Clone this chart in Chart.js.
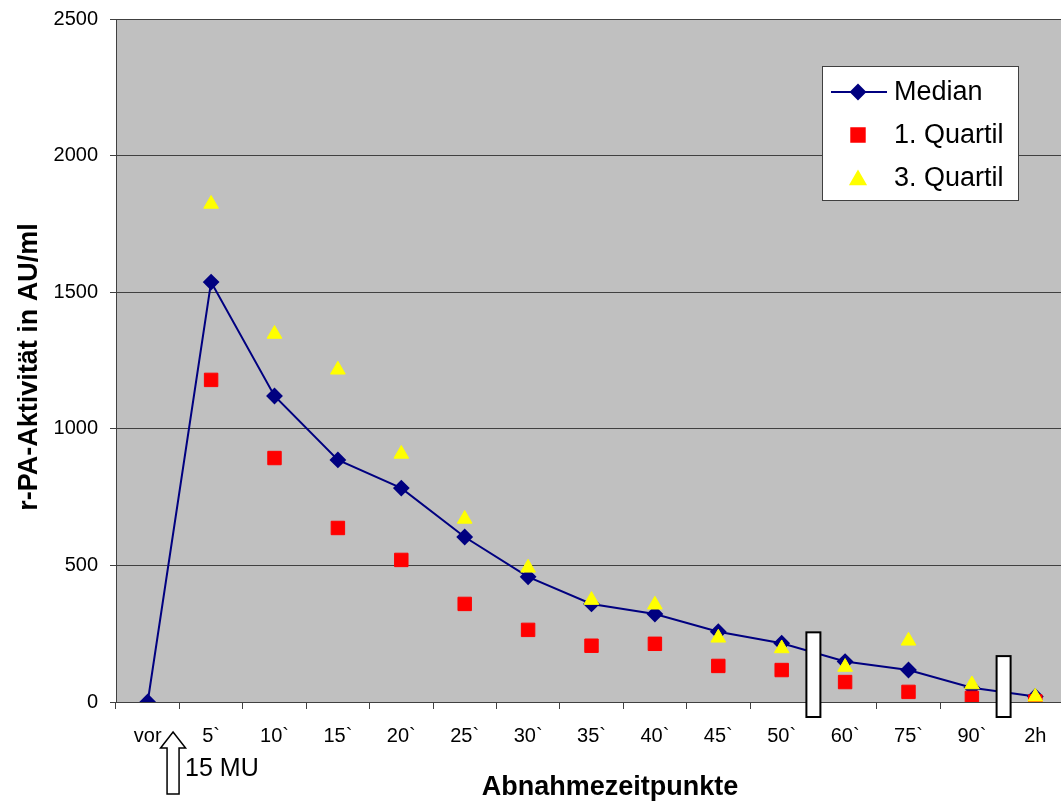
<!DOCTYPE html>
<html lang="de">
<head>
<meta charset="utf-8">
<title>r-PA-Aktivität</title>
<script src="https://cdn.jsdelivr.net/npm/chart.js@4/dist/chart.umd.min.js"></script>
<style>
  html, body { margin: 0; padding: 0; background: #fff; overflow: hidden; }
  #wrap { width: 1080px; height: 803px; }
</style>
</head>
<body>
<div id="wrap"><canvas id="grafico"></canvas></div>
<script>
const zeitpunkte = ['vor', '5`', '10`', '15`', '20`', '25`', '30`', '35`', '40`', '45`', '50`', '60`', '75`', '90`', '2h'];
const median = [0, 1537, 1120, 886, 783, 604, 458, 359, 322, 257, 215, 148, 117, 52, 20];
const quartil1 = [null, 1179, 893, 637, 520, 359, 264, 206, 213, 132, 117, 73, 37, 15, 2];
const quartil3 = [null, 1823, 1347, 1216, 908, 670, 491, 373, 356, 235, 196, 128, 224, 64, 19];
const yTicks = [0, 500, 1000, 1500, 2000, 2500];

// Achsenbruch nach diesen Kategorien (Index), Oberkante des Balkens in AU/ml
const bruchNach = [10, 13];
const bruchOben = [255, 168];

const FONT = '"Liberation Sans", Arial, sans-serif';
const ACHSE = '#404040';

const hintergrund = {
  id: 'hintergrund',
  beforeDraw(chart) {
    const { ctx, chartArea: a } = chart;
    ctx.save();
    ctx.fillStyle = '#c0c0c0';
    ctx.fillRect(a.left, a.top, a.right - a.left, a.bottom - a.top);
    ctx.restore();
  }
};

const extras = {
  id: 'extras',
  afterDatasetsDraw(chart) {
    const { ctx, scales: { x, y } } = chart;
    ctx.save();

    // Achsentitel
    ctx.fillStyle = '#000';
    ctx.font = 'bold 27px ' + FONT;
    ctx.textAlign = 'center';
    ctx.textBaseline = 'alphabetic';
    ctx.fillText('Abnahmezeitpunkte', 610, 795);
    ctx.save();
    ctx.translate(37, 367);
    ctx.rotate(-Math.PI / 2);
    ctx.fillText('r-PA-Aktivität in AU/ml', 0, 0);
    ctx.restore();

    // Achsenbruch-Balken
    ctx.fillStyle = '#fff';
    ctx.strokeStyle = '#000';
    ctx.lineWidth = 2;
    bruchNach.forEach((idx, i) => {
      const bx = x.getPixelForValue(idx + 0.5);
      const top = y.getPixelForValue(bruchOben[i]);
      const bottom = y.getPixelForValue(0) + 15;
      ctx.fillRect(bx - 7, top, 14, bottom - top);
      ctx.strokeRect(bx - 7, top, 14, bottom - top);
    });

    // Pfeil "15 MU"
    const ax = x.getPixelForValue(0.4);
    const tip = y.getPixelForValue(0) + 30;
    ctx.beginPath();
    ctx.moveTo(ax, tip);
    ctx.lineTo(ax + 12.5, tip + 16);
    ctx.lineTo(ax + 6, tip + 16);
    ctx.lineTo(ax + 6, tip + 62);
    ctx.lineTo(ax - 6, tip + 62);
    ctx.lineTo(ax - 6, tip + 16);
    ctx.lineTo(ax - 12.5, tip + 16);
    ctx.closePath();
    ctx.fill();
    ctx.lineWidth = 1.5;
    ctx.stroke();
    ctx.fillStyle = '#000';
    ctx.font = '25px ' + FONT;
    ctx.textAlign = 'left';
    ctx.fillText('15 MU', ax + 12, tip + 44);

    // Legende
    const lx = 822, ly = 66, lw = 196, lh = 134;
    ctx.fillStyle = '#fff';
    ctx.fillRect(lx, ly, lw, lh);
    ctx.strokeStyle = ACHSE;
    ctx.lineWidth = 1;
    ctx.strokeRect(lx + 0.5, ly + 0.5, lw, lh);
    ctx.font = '27px ' + FONT;
    ctx.textBaseline = 'middle';
    chart.data.datasets.forEach((ds, i) => {
      const cy = ly + 26 + i * 43;
      const mx = lx + 36;
      if (ds.showLine !== false) {
        ctx.strokeStyle = ds.borderColor;
        ctx.lineWidth = ds.borderWidth;
        ctx.beginPath();
        ctx.moveTo(lx + 9, cy);
        ctx.lineTo(lx + 65, cy);
        ctx.stroke();
      }
      ctx.fillStyle = ds.pointBackgroundColor;
      ctx.strokeStyle = ds.pointBorderColor;
      Chart.helpers.drawPoint(ctx, { pointStyle: ds.pointStyle, radius: ds.pointRadius, borderWidth: 1 }, mx, ds.pointStyle === 'triangle' ? cy + 2 : cy);
      ctx.fillStyle = '#000';
      ctx.fillText(ds.label, lx + 72, cy + 1);
    });
    ctx.restore();
  }
};

new Chart(document.getElementById('grafico'), {
  type: 'line',
  data: {
    labels: zeitpunkte,
    datasets: [
      {
        label: 'Median', data: median, order: 2,
        borderColor: '#000080', borderWidth: 2, tension: 0,
        pointStyle: 'rectRot', pointRadius: 7,
        pointBackgroundColor: '#000080', pointBorderColor: '#000080'
      },
      {
        label: '1. Quartil', data: quartil1, order: 1, showLine: false,
        pointStyle: 'rect', pointRadius: 9.5,
        pointBackgroundColor: '#ff0000', pointBorderColor: '#ff0000', borderColor: '#ff0000'
      },
      {
        label: '3. Quartil', data: quartil3, order: 0, showLine: false,
        pointStyle: 'triangle', pointRadius: 8.5,
        pointBackgroundColor: '#ffff00', pointBorderColor: '#ffff00', borderColor: '#ffff00'
      }
    ]
  },
  options: {
    responsive: true,
    maintainAspectRatio: false,
    animation: false,
    events: [],
    layout: { padding: { top: 19, right: 13, bottom: 0, left: 0 } },
    plugins: { legend: { display: false }, tooltip: { enabled: false } },
    scales: {
      x: {
        offset: true,
        afterFit(scale) { scale.height = 101; scale.paddingLeft = 0; scale.paddingRight = 0; },
        grid: { offset: true, drawOnChartArea: false, drawTicks: true, tickLength: 7, color: ACHSE },
        border: { display: true, color: ACHSE },
        ticks: { color: '#000', font: { family: FONT, size: 20 }, padding: 15, maxRotation: 0, autoSkip: false }
      },
      y: {
        min: 0, max: 2500,
        afterFit(scale) { scale.width = 116; scale.paddingTop = 0; scale.paddingBottom = 0; },
        afterBuildTicks(scale) { scale.ticks = yTicks.map(v => ({ value: v })); },
        grid: { color: ACHSE, tickLength: 6 },
        border: { display: true, color: ACHSE },
        ticks: { color: '#000', font: { family: FONT, size: 20 }, padding: 12, callback: v => String(v) }
      }
    }
  },
  plugins: [hintergrund, extras]
});
</script>
</body>
</html>
